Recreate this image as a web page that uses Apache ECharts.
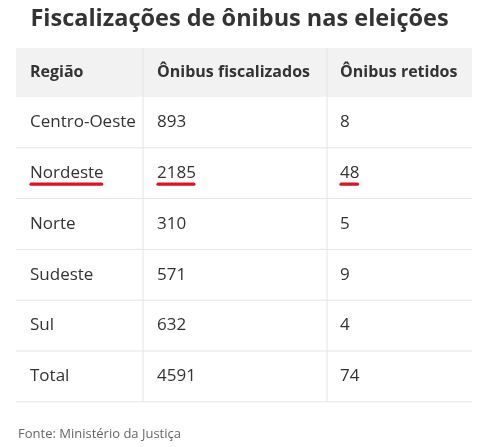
<!DOCTYPE html>
<html><head><meta charset="utf-8">
<script src="https://cdn.jsdelivr.net/npm/echarts@6/dist/echarts.min.js"></script>
<style>html,body{margin:0;padding:0;background:#fff}#c{width:479px;height:447px}</style>
</head><body><div id="c"></div>
<script>
const title = "Fiscalizações de ônibus nas eleições";
const headers = ["Região", "Ônibus fiscalizados", "Ônibus retidos"];
const regions = ["Centro-Oeste", "Nordeste", "Norte", "Sudeste", "Sul", "Total"];
const fiscalizados = [893, 2185, 310, 571, 632, 4591];
const retidos = [8, 48, 5, 9, 4, 74];
const highlighted = ["Nordeste"];
const source = "Fonte: Ministério da Justiça";

const F = "'Open Sans', sans-serif";
const colX = [30, 157, 340];
const colDiv = [143, 327];
const left = 16, right = 472, headTop = 48, headH = 49, rowH = 50.8;
const ctx = document.createElement('canvas').getContext('2d');
ctx.font = `17px ${F}`;
const els = [];
els.push({type:'text', left:'center', top:7, style:{text:title, font:`bold 23.5px ${F}`, fill:'#333'}});
els.push({type:'rect', shape:{x:left, y:headTop, width:right-left, height:headH}, style:{fill:'#f2f2f2'}});
colDiv.forEach(x=>els.push({type:'line', shape:{x1:x,y1:headTop,x2:x,y2:headTop+headH+rowH*regions.length}, style:{stroke:'#e4e4e4', lineWidth:1}}));
headers.forEach((h,i)=>els.push({type:'text', x:colX[i], y:headTop+headH/2, style:{text:h, font:`bold 16px ${F}`, fill:'#333', verticalAlign:'middle'}}));
regions.forEach((r,k)=>{
  const y0 = headTop+headH+rowH*k, cy = y0+rowH/2;
  const vals=[r, String(fiscalizados[k]), String(retidos[k])];
  vals.forEach((v,i)=>{
    els.push({type:'text', x:colX[i], y:cy, style:{text:v, font:`17px ${F}`, fill:'#333', verticalAlign:'middle'}});
    if (highlighted.includes(r)) {
      const tw = ctx.measureText(v).width;
      els.push({type:'line', shape:{x1:colX[i]+1,y1:cy+11,x2:colX[i]+tw-2,y2:cy+11}, style:{stroke:'#e0101e', lineWidth:3.2, lineCap:'round'}});
    }
  });
  els.push({type:'line', shape:{x1:left,y1:y0+rowH,x2:right,y2:y0+rowH}, style:{stroke:'#e4e4e4', lineWidth:1}});
});
els.push({type:'text', x:18, y:434, style:{text:source, font:`13px ${F}`, fill:'#666', verticalAlign:'middle'}});
const chart = echarts.init(document.getElementById('c'));
chart.setOption({graphic:{elements:els}});
</script></body></html>
